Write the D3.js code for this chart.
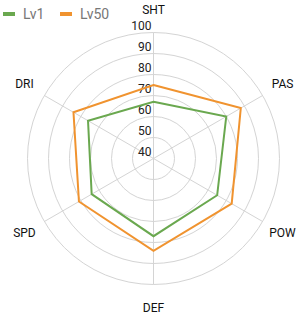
<!DOCTYPE html>
<html>
<head>
<meta charset="utf-8">
<script src="https://cdn.jsdelivr.net/npm/d3@7"></script>
<style>
  body { margin: 0; background: #fff; }
  text { font-family: Roboto, "Liberation Sans", sans-serif; }
</style>
</head>
<body>
<svg id="chart" width="308" height="317"></svg>
<script>
var width = 308, height = 317;

// data
var axes = ["SHT", "PAS", "POW", "DEF", "SPD", "DRI"];
var seriesNames = ["Lv1", "Lv50"];
var lv1 = [67, 80, 75, 77, 74, 76];
var lv50 = [75, 88, 83, 84, 81, 84];
var ticks = [40, 50, 60, 70, 80, 90, 100];

var colors = ["#6aa84f", "#f0932f"];
var cx = 153.5, cy = 158.5, R = 126;

var svg = d3.select("#chart");

var r = d3.scaleLinear().domain([40, 100]).range([0, R]);
var angle = d3.scalePoint().domain(axes).range([0, 2 * Math.PI * 5 / 6]);

function pt(axis, v) {
    var a = angle(axis) - Math.PI / 2;
    return [cx + r(v) * Math.cos(a), cy + r(v) * Math.sin(a)];
}

var g = svg.append("g");

// grid rings
g.selectAll("circle.ring")
    .data(ticks.slice(1))
    .join("circle")
    .attr("class", "ring")
    .attr("cx", cx).attr("cy", cy)
    .attr("r", d => r(d))
    .attr("fill", "none")
    .attr("stroke", "#d4d4d4")
    .attr("stroke-width", 1);

// spokes
g.selectAll("line.spoke")
    .data(axes)
    .join("line")
    .attr("class", "spoke")
    .attr("x1", cx).attr("y1", cy)
    .attr("x2", d => pt(d, 100)[0])
    .attr("y2", d => pt(d, 100)[1])
    .attr("stroke", "#d4d4d4")
    .attr("stroke-width", 1);

// tick labels on the first axis
g.selectAll("text.tick")
    .data(ticks)
    .join("text")
    .attr("class", "tick")
    .attr("x", cx - 2)
    .attr("y", d => cy - r(d) - 3)
    .attr("text-anchor", "end")
    .attr("font-size", 12)
    .attr("fill", "#222")
    .text(d => d);

// series
var line = d3.line().curve(d3.curveLinearClosed);
[lv1, lv50].forEach(function(vals, i) {
    g.append("path")
        .attr("d", line(axes.map((a, j) => pt(a, vals[j]))))
        .attr("fill", "none")
        .attr("stroke", colors[i])
        .attr("stroke-width", 2)
        .attr("stroke-linejoin", "miter");
});

// axis names
g.selectAll("text.name")
    .data(axes)
    .join("text")
    .attr("class", "name")
    .attr("x", d => { var a = angle(d) - Math.PI / 2; return cx + 149 * Math.cos(a); })
    .attr("y", d => { var a = angle(d) - Math.PI / 2; return cy + 149 * Math.sin(a); })
    .attr("text-anchor", "middle")
    .attr("dominant-baseline", "central")
    .attr("font-size", 12)
    .attr("fill", "#111")
    .text(d => d);

// legend
var legendX = [3, 60];
var leg = svg.selectAll("g.legend")
    .data(seriesNames)
    .join("g")
    .attr("class", "legend")
    .attr("transform", (d, i) => "translate(" + legendX[i] + ",0)");
leg.append("rect")
    .attr("x", 0).attr("y", 12)
    .attr("width", 12).attr("height", 4)
    .attr("fill", (d, i) => colors[i]);
leg.append("text")
    .attr("x", 20).attr("y", 14)
    .attr("dominant-baseline", "central")
    .attr("font-size", 14)
    .attr("fill", "#777")
    .text(d => d);
</script>
</body>
</html>
